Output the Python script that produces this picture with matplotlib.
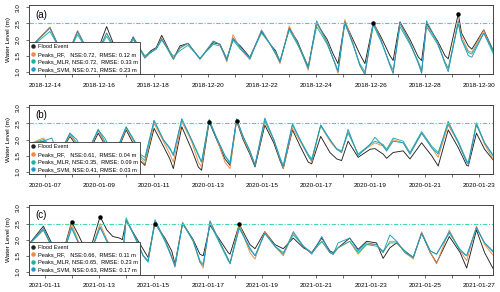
import numpy as np
import pandas as pd
import matplotlib
matplotlib.use("Agg")
import matplotlib.pyplot as plt
from matplotlib.lines import Line2D

plt.rcParams['font.family'] = ['Liberation Sans', 'DejaVu Sans']

# --------------------------------------------
# DATA (days since first labelled date, water level in m)
# --------------------------------------------
# Panel (a)
a_start = "2018-12-14"
a_days = [-0.6, 0.18, 0.55, 0.75, 1.2, 1.6, 1.8, 2.27, 2.65, 2.85, 3.25, 3.68, 3.9, 4.1,
          4.3, 4.73, 4.97, 5.27, 5.71, 6.2, 6.45, 6.7, 6.93, 7.2, 7.55, 7.98, 8.3, 8.5,
          8.66, 9.0, 9.3, 9.52, 9.7, 10.01, 10.4, 10.62, 10.8, 11.05, 11.35, 11.6, 11.79,
          12.1, 12.4, 12.71, 12.83, 13.08, 13.45, 13.76, 13.88, 14.06, 14.47, 14.74,
          14.86, 15.23, 15.35, 15.6, 15.73, 16.17, 16.55]
a_obs = [1.7, 2.38, 1.7, 1.35, 2.25, 1.6, 1.35, 2.4, 1.6, 1.4, 2.08, 1.45, 1.65, 1.75,
         2.13, 1.4, 1.8, 1.88, 1.4, 1.9, 1.85, 1.4, 2.0, 1.8, 1.45, 2.25, 1.85, 1.65,
         1.3, 2.35, 1.95, 1.5, 1.15, 2.5, 2.0, 1.55, 1.25, 2.55, 2.0, 1.55, 1.25,
         2.52, 2.05, 1.5, 1.35, 2.55, 2.0, 1.45, 1.35, 2.5, 1.95, 1.5,
         1.4, 2.8, 2.2, 1.8, 1.7, 2.3, 1.6]
a_rf = [1.7, 2.38, 1.7, 1.35, 2.28, 1.6, 1.35, 2.2, 1.6, 1.4, 2.05, 1.45, 1.6, 1.72,
        2.05, 1.4, 1.72, 1.88, 1.38, 1.95, 1.85, 1.3, 2.15, 1.7, 1.38, 2.3, 1.85, 1.55,
        1.25, 2.42, 1.9, 1.45, 1.05, 2.5, 1.9, 1.4, 0.95, 2.62, 1.9, 1.2, 0.9,
        2.55, 1.95, 1.2, 0.95, 2.52, 1.9, 1.3, 0.97, 2.45, 1.9, 1.3,
        1.1, 2.6, 2.1, 1.65, 1.6, 2.28, 1.55]
a_mlr = [1.7, 2.25, 1.7, 1.4, 2.15, 1.6, 1.4, 2.1, 1.6, 1.45, 2.0, 1.5, 1.6, 1.7,
         1.98, 1.48, 1.65, 1.82, 1.42, 1.85, 1.8, 1.4, 1.98, 1.7, 1.45, 2.2, 1.85, 1.6,
         1.35, 2.3, 1.85, 1.5, 1.15, 2.4, 1.85, 1.4, 1.05, 2.5, 1.85, 1.25, 1.0,
         2.45, 1.9, 1.25, 1.05, 2.4, 1.85, 1.3, 1.05, 2.4, 1.85, 1.3,
         1.1, 2.5, 2.0, 1.6, 1.55, 2.2, 1.5]
a_svm = [1.7, 2.35, 1.7, 1.35, 2.25, 1.6, 1.35, 2.2, 1.6, 1.4, 2.05, 1.42, 1.6, 1.72,
         2.02, 1.38, 1.75, 1.88, 1.4, 1.95, 1.85, 1.35, 2.05, 1.75, 1.4, 2.28, 1.85, 1.55,
         1.3, 2.35, 1.9, 1.45, 1.1, 2.58, 1.9, 1.4, 1.0, 2.55, 1.85, 1.2, 0.92,
         2.5, 1.95, 1.2, 0.95, 2.5, 1.9, 1.25, 0.95, 2.58, 1.9, 1.25,
         1.0, 2.55, 2.0, 1.5, 1.45, 2.2, 1.6]
a_flood_days = [12.1, 15.23]
a_flood_vals = [2.52, 2.8]
a_nse = ["0.72", "0.72", "0.71"]
a_rmse = ["0.12", "0.33", "0.23"]

# Panel (b)
b_start = "2020-01-07"
b_days = [-0.6, -0.06, 0.25, 0.5, 0.92, 1.17, 1.5, 1.96, 2.2, 2.55, 2.99, 3.3, 3.5, 3.68,
          4.02, 4.36, 4.6, 4.73, 5.04, 5.4, 5.65, 5.77, 6.05, 6.3, 6.63, 6.82, 7.06, 7.3,
          7.55, 7.74, 8.1, 8.43, 8.66, 8.78, 9.12, 9.4, 9.7, 9.83, 10.16, 10.5, 10.75,
          10.93, 11.17, 11.54, 11.98, 12.16, 12.46, 12.59, 12.83, 13.2, 13.45, 13.88,
          14.25, 14.49, 14.86, 15.23, 15.54, 15.6, 15.9, 16.2, 16.58]
b_obs = [1.85, 1.95, 1.7, 1.5, 2.1, 1.8, 1.4, 2.2, 1.85, 1.4, 2.3, 1.8, 1.35, 1.2,
         2.35, 1.8, 1.4, 1.1, 2.4, 1.7, 1.15, 1.05, 2.55, 2.05, 1.4, 1.2, 2.58, 2.0,
         1.55, 1.15, 2.45, 1.9, 1.35, 1.1, 2.3, 1.8, 1.3, 1.25, 2.1, 1.6, 1.4,
         1.35, 1.95, 1.45, 1.7, 1.72, 1.55, 1.42, 1.6, 1.65, 1.4, 1.9,
         1.5, 1.18, 2.3, 1.75, 1.2, 1.18, 2.2, 1.7, 1.3]
b_rf = [1.85, 2.05, 1.75, 1.5, 2.15, 1.85, 1.45, 2.28, 1.9, 1.45, 2.35, 1.9, 1.45, 1.25,
        2.5, 1.95, 1.55, 1.3, 2.55, 1.95, 1.3, 1.15, 2.6, 2.1, 1.3, 1.1, 2.6, 2.05,
        1.6, 1.2, 2.55, 2.0, 1.4, 1.1, 2.35, 1.95, 1.5, 1.3, 2.42, 1.95, 1.7,
        1.6, 2.25, 1.55, 1.8, 1.9, 1.8, 1.65, 2.0, 1.9, 1.55, 2.2,
        1.75, 1.45, 2.45, 1.9, 1.3, 1.22, 2.5, 1.85, 1.3]
b_mlr = [1.85, 2.0, 1.75, 1.5, 2.2, 1.9, 1.5, 2.32, 1.95, 1.5, 2.38, 1.95, 1.5, 1.35,
         2.58, 2.0, 1.7, 1.55, 2.62, 2.0, 1.5, 1.3, 2.63, 2.1, 1.5, 1.3, 2.65, 2.1,
         1.65, 1.22, 2.6, 2.0, 1.45, 1.2, 2.5, 2.0, 1.55, 1.4, 2.45, 2.0, 1.72,
         1.65, 2.2, 1.55, 1.85, 1.95, 1.85, 1.7, 2.05, 1.95, 1.6, 2.25,
         1.8, 1.6, 2.5, 1.95, 1.35, 1.3, 2.52, 1.9, 1.45]
b_svm = [1.85, 1.95, 2.05, 1.5, 2.2, 2.0, 1.5, 2.3, 2.05, 1.5, 2.4, 1.95, 1.55, 1.45,
         2.6, 2.0, 1.75, 1.5, 2.65, 2.0, 1.55, 1.3, 2.58, 2.1, 1.5, 1.25, 2.63, 2.1,
         1.65, 1.2, 2.67, 2.0, 1.4, 1.15, 2.45, 2.0, 1.5, 1.35, 2.45, 2.0, 1.7,
         1.6, 2.32, 1.5, 1.85, 2.07, 1.8, 1.65, 1.95, 1.9, 1.55, 2.2,
         1.75, 1.55, 2.57, 1.9, 1.3, 1.25, 2.45, 1.9, 1.4]
b_flood_days = [6.05, 7.06]
b_flood_vals = [2.55, 2.58]
b_nse = ["0.61", "0.35", "0.41"]
b_rmse = ["0.04", "0.09", "0.03"]

# Panel (c)
c_start = "2021-01-11"
c_days = [-0.6, -0.06, 0.3, 0.6, 0.98, 1.23, 1.6, 2.03, 2.28, 2.5, 2.75, 2.85, 2.99, 3.37,
          3.62, 3.8, 4.05, 4.42, 4.67, 4.79, 5.07, 5.46, 5.71, 5.83, 6.08, 6.4, 6.75,
          6.82, 7.16, 7.55, 7.74, 8.1, 8.47, 8.78, 9.15, 9.52, 9.83, 10.2, 10.5, 10.62,
          10.8, 11.23, 11.54, 11.85, 12.22, 12.46, 12.71, 12.96, 13.26, 13.57, 13.88,
          14.2, 14.43, 14.9, 15.3, 15.54, 15.9, 16.2, 16.58]
c_obs = [1.85, 2.42, 1.8, 1.4, 2.55, 2.15, 1.5, 2.72, 2.3, 2.1, 2.05, 2.0, 2.6, 2.05,
         1.7, 1.45, 2.5, 2.05, 1.65, 1.25, 2.52, 2.0, 1.55, 1.5, 2.45, 2.05, 1.6,
         1.55, 2.48, 1.85, 1.72, 2.25, 1.85, 1.72, 2.05, 1.75, 1.6, 2.05, 1.65, 1.6,
         1.75, 2.05, 1.7, 1.95, 1.9, 1.42, 1.75, 1.9, 1.65, 1.45, 2.2,
         1.6, 1.28, 2.1, 1.6, 1.12, 2.3, 1.6, 1.0]
c_rf = [1.85, 2.3, 1.7, 1.35, 2.5, 1.95, 1.4, 2.5, 2.0, 1.7, 1.45, 1.4, 2.62, 2.0,
        1.5, 1.35, 2.55, 2.0, 1.5, 1.2, 2.55, 1.95, 1.3, 1.12, 2.58, 2.0, 1.4,
        1.25, 2.5, 1.6, 1.4, 2.25, 1.8, 1.5, 2.2, 1.8, 1.58, 1.95, 1.6, 1.55,
        1.75, 1.95, 1.55, 1.85, 1.85, 1.6, 1.95, 1.95, 1.6, 1.4, 2.25,
        1.6, 1.25, 2.3, 1.65, 1.35, 2.42, 1.85, 1.45]
c_mlr = [1.85, 2.3, 1.7, 1.4, 2.4, 1.9, 1.45, 2.4, 1.95, 1.7, 1.5, 1.45, 2.68, 1.95,
         1.5, 1.3, 2.55, 1.95, 1.45, 1.2, 2.5, 1.95, 1.35, 1.25, 2.5, 1.95, 1.35,
         1.3, 2.4, 1.7, 1.5, 2.2, 1.8, 1.6, 2.15, 1.8, 1.6, 1.95, 1.6, 1.55,
         1.75, 1.95, 1.6, 1.85, 1.8, 1.65, 1.9, 1.9, 1.65, 1.45, 2.2,
         1.65, 1.55, 2.2, 1.7, 1.5, 2.35, 1.9, 1.6]
c_svm = [1.85, 2.35, 1.7, 1.35, 2.35, 1.9, 1.4, 2.38, 1.95, 1.7, 1.45, 1.4, 2.6, 2.0,
         1.5, 1.35, 2.62, 2.0, 1.45, 1.15, 2.5, 2.0, 1.3, 1.2, 2.58, 2.0, 1.4,
         1.25, 2.35, 1.75, 1.5, 2.2, 1.8, 1.55, 2.25, 1.8, 1.55, 2.1, 1.6, 1.55,
         1.9, 2.05, 1.65, 1.9, 1.85, 1.6, 2.15, 1.95, 1.6, 1.45, 2.2,
         1.65, 1.55, 2.25, 1.65, 1.5, 2.38, 1.9, 1.55]
c_flood_days = [0.98, 2.03, 4.05, 7.16]
c_flood_vals = [2.55, 2.72, 2.5, 2.48]
c_nse = ["0.66", "0.65", "0.63"]
c_rmse = ["0.11", "0.23", "0.17"]

threshold = 2.5

# --------------------------------------------
# STYLE
# --------------------------------------------
col_obs = "#222222"
col_rf = "#EE8A40"
col_mlr = "#1DB39B"
col_svm = "#2596C8"
col_thr = "#45D4B4"


def to_time(start, days):
    return pd.Timestamp(start) + pd.to_timedelta(np.array(days), unit="D")


def draw_panel(ax, tag, start, days, obs, rf, mlr, svm, fdays, fvals, nse, rmse):
    t = to_time(start, days)
    for vals, col in [(obs, col_obs), (rf, col_rf), (mlr, col_mlr), (svm, col_svm)]:
        ax.plot(t, vals, color=col, lw=0.65, solid_joinstyle="round")
    ax.plot(to_time(start, fdays), fvals, "o", color="black", ms=2.2, zorder=5)
    ax.axhline(threshold, color=col_thr, lw=0.8, linestyle=(0, (4, 1.5, 1, 1.5)))

    ax.set_xlim(pd.Timestamp(start) - pd.Timedelta(days=0.59),
                pd.Timestamp(start) + pd.Timedelta(days=16.51))
    ax.set_ylim(0.92, 3.08)

    ticks = pd.date_range(start, periods=17, freq="D")
    ax.set_xticks(ticks)
    ax.set_xticklabels([d.strftime("%Y-%m-%d") if i % 2 == 0 else ""
                        for i, d in enumerate(ticks)])
    ax.set_yticks([1.0, 1.5, 2.0, 2.5, 3.0])
    ax.set_yticklabels(["1.0", "1.5", "2.0", "2.5", "3.0"], rotation=90, va="center")
    ax.tick_params(axis="both", labelsize=4.6, length=2.5, width=0.5,
                   color="#333333", pad=3.5)
    for s in ax.spines.values():
        s.set_linewidth(0.7)
        s.set_color("#444444")
    ax.set_ylabel("Water Level (m)", fontsize=4.6, labelpad=3)
    ax.text(0.013, 0.85, tag, transform=ax.transAxes, fontsize=7, va="center")

    handles = [Line2D([], [], marker="o", ls="none", color=c, ms=2.2)
               for c in [col_obs, col_rf, col_mlr, col_svm]]
    labels = ["Flood Event",
              f"Peaks_RF,   NSE:{nse[0]},  RMSE: {rmse[0]} m",
              f"Peaks_MLR, NSE:{nse[1]},  RMSE: {rmse[1]} m",
              f"Peaks_SVM, NSE:{nse[2]}, RMSE: {rmse[2]} m"]
    leg = ax.legend(handles, labels, loc="lower left", borderaxespad=0,
                    fontsize=4.1, fancybox=False, framealpha=1, edgecolor="#333333",
                    handlelength=0.6, handletextpad=0.6, labelspacing=0.45,
                    borderpad=0.4)
    leg.get_frame().set_linewidth(0.6)
    leg.set_zorder(10)


# --------------------------------------------
# PLOT
# --------------------------------------------
fig = plt.figure(figsize=(5.0, 2.92), dpi=100)
H = 292.0
panels = [
    ("(a)", a_start, a_days, a_obs, a_rf, a_mlr, a_svm, a_flood_days, a_flood_vals, a_nse, a_rmse, 4.7),
    ("(b)", b_start, b_days, b_obs, b_rf, b_mlr, b_svm, b_flood_days, b_flood_vals, b_nse, b_rmse, 104.8),
    ("(c)", c_start, c_days, c_obs, c_rf, c_mlr, c_svm, c_flood_days, c_flood_vals, c_nse, c_rmse, 204.9),
]
for p in panels:
    top = p[-1]
    ax = fig.add_axes([29 / 500, 1 - (top + 69.6) / H, 464 / 500, 69.6 / H])
    draw_panel(ax, *p[:-1])

fig.savefig("out.png", dpi=100)
plt.close(fig)
